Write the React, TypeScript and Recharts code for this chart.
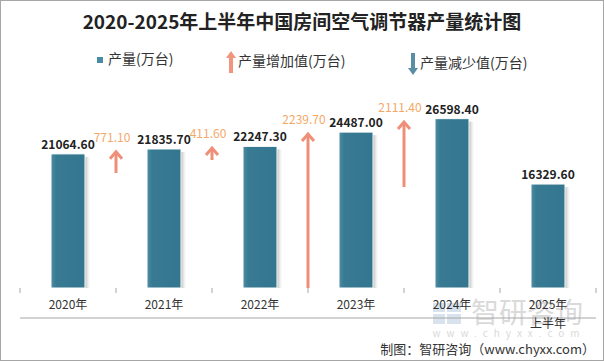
import { Bar, ComposedChart, LabelList, XAxis, YAxis } from 'recharts';

const years = ['2020年', '2021年', '2022年', '2023年', '2024年', '2025年上半年'];
const output = [21064.6, 21835.7, 22247.3, 24487.0, 26598.4, 16329.6];
const increase = [null, 771.1, 411.6, 2239.7, 2111.4, null];
// 箭头起止位置（以产量刻度表示）
const arrowLow = [null, 18060, 20100, 0, 15860, null];
const arrowHigh = [null, 21560, 22150, 24350, 26230, null];

const W = 604;
const H = 361;
const MARGIN = { top: 97, right: 8, bottom: 72, left: 20 };
const BAND = (W - MARGIN.left - MARGIN.right) / years.length;
const AXIS_Y = H - MARGIN.bottom - 1;
const FONT = '"Noto Sans CJK SC", "Noto Sans", sans-serif';

const data = years.map((year, i) => ({
  year,
  output: output[i],
  increase: increase[i],
  arrow: arrowLow[i] == null ? null : [arrowLow[i], arrowHigh[i]],
}));

function BarShape(props: any) {
  const { x, y, width, height } = props;
  if (height == null || height <= 0) return null;
  return (
    <g>
      <rect x={x + width} y={y + 3} width={6} height={height - 3} fill="url(#shadowGrad)" />
      <rect x={x} y={y} width={width} height={height} fill="url(#barGrad)" stroke="#ffffff" strokeWidth={1} />
    </g>
  );
}

function ArrowShape(props: any) {
  const { x, y, width, height, payload } = props;
  if (payload.arrow == null || height == null) return null;
  const cx = x + width / 2 - BAND / 2;
  const top = y;
  const bottom = y + height;
  return (
    <g>
      <line x1={cx} y1={bottom} x2={cx} y2={top + 2} stroke="#ef8f78" strokeWidth={3} />
      <polyline
        points={`${cx - 6},${top + 8} ${cx},${top + 1} ${cx + 6},${top + 8}`}
        fill="none"
        stroke="#ef8f78"
        strokeWidth={3}
      />
      <text x={cx - 4} y={top - 13} dy="0.35em" textAnchor="middle" fill="#f4a867" fontSize={12} fontFamily={FONT}>
        {payload.increase.toFixed(2)}
      </text>
    </g>
  );
}

function YearTick(props: any) {
  const { x, payload, index } = props;
  const value: string = payload.value;
  const lines = value.length > 5 ? [value.slice(0, 5), value.slice(5)] : [value];
  return (
    <g>
      <line x1={x - BAND / 2} y1={AXIS_Y} x2={x - BAND / 2} y2={AXIS_Y + 5} stroke="#a6a6a6" />
      {index === years.length - 1 && (
        <line x1={x + BAND / 2} y1={AXIS_Y} x2={x + BAND / 2} y2={AXIS_Y + 5} stroke="#a6a6a6" />
      )}
      {lines.map((t, i) => (
        <text key={i} x={x} y={AXIS_Y + 21 + i * 19} textAnchor="middle" fill="#333" fontSize={12} fontFamily={FONT}>
          {t}
        </text>
      ))}
    </g>
  );
}

export default function App() {
  return (
    <div style={{ position: 'absolute', left: 0, top: 0, width: W, height: H, background: '#fff', fontFamily: FONT }}>
      <div
        style={{
          position: 'absolute',
          top: 8,
          width: W,
          textAlign: 'center',
          fontSize: 19,
          fontWeight: 700,
          color: '#222',
          lineHeight: '26px',
        }}
      >
        2020-2025年上半年中国房间空气调节器产量统计图
      </div>

      <div style={{ position: 'absolute', top: 48, left: 97, fontSize: 14, color: '#333', lineHeight: '20px' }}>
        <span style={{ display: 'inline-block', width: 6, height: 6, background: '#4a8ca3', marginRight: 5, verticalAlign: 'middle' }} />
        产量(万台)
      </div>
      <div style={{ position: 'absolute', top: 50, left: 226, fontSize: 14, color: '#333', lineHeight: '20px' }}>
        <svg width={10} height={22} style={{ verticalAlign: 'middle', marginRight: 2 }}>
          <polygon points="5,0 10,7 7,7 7,22 3,22 3,7 0,7" fill="#f1957e" />
        </svg>
        产量增加值(万台)
      </div>
      <div style={{ position: 'absolute', top: 52, left: 408, fontSize: 14, color: '#333', lineHeight: '20px' }}>
        <svg width={10} height={22} style={{ verticalAlign: 'middle', marginRight: 2 }}>
          <polygon points="3,0 7,0 7,15 10,15 5,22 0,15 3,15" fill="#5a8ea4" />
        </svg>
        产量减少值(万台)
      </div>

      {/* 水印 */}
      <svg width={W} height={H} style={{ position: 'absolute', left: 0, top: 0 }}>
        <g opacity={0.55}>
          <rect x={433} y={303} width={12} height={9} fill="#b9cde0" />
          <rect x={447} y={303} width={14} height={9} fill="#b9cde0" />
          <rect x={433} y={314} width={12} height={10} fill="#b9cde0" />
          <rect x={447} y={314} width={14} height={10} fill="#b9cde0" />
        </g>
        <text x={527} y={313} dy="0.35em" textAnchor="middle" fontSize={28} fill="#dadada" fontFamily={FONT}>
          智研咨询
        </text>
        <text x={509} y={333} dy="0.35em" textAnchor="middle" fontSize={10} fill="#dadada" letterSpacing={6} fontFamily={FONT}>
          www.chyxx.com
        </text>
      </svg>

      <div style={{ position: 'absolute', left: 0, top: 0 }}>
        <ComposedChart width={W} height={H} data={data} margin={MARGIN}>
          <defs>
            <linearGradient id="barGrad" x1="0" y1="0" x2="1" y2="0">
              <stop offset="0%" stopColor="#4d8ea4" />
              <stop offset="15%" stopColor="#377a92" />
              <stop offset="100%" stopColor="#33768f" />
            </linearGradient>
            <linearGradient id="shadowGrad" x1="0" y1="0" x2="1" y2="0">
              <stop offset="0%" stopColor="#b4b4b4" />
              <stop offset="100%" stopColor="#ffffff" stopOpacity={0} />
            </linearGradient>
          </defs>
          <XAxis
            xAxisId="main"
            dataKey="year"
            height={1}
            axisLine={{ stroke: '#a6a6a6' }}
            tickLine={false}
            interval={0}
            tick={<YearTick />}
          />
          <XAxis xAxisId="arr" dataKey="year" hide />
          <YAxis domain={[0, 30000]} allowDataOverflow hide />
          <Bar xAxisId="main" dataKey="output" barSize={34} shape={<BarShape />} isAnimationActive={false}>
            <LabelList
              dataKey="output"
              position="top"
              offset={5}
              formatter={(v: any) => Number(v).toFixed(2)}
              fill="#222"
              fontSize={12}
              fontWeight={600}
              fontFamily={FONT}
            />
          </Bar>
          <Bar xAxisId="arr" dataKey="arrow" barSize={10} shape={<ArrowShape />} isAnimationActive={false} />
        </ComposedChart>
      </div>

      <svg width={W} height={H} style={{ position: 'absolute', left: 0, top: 0, pointerEvents: 'none' }}>
        <text x={595} y={349} dy="0.35em" textAnchor="end" fontSize={13} fill="#333" fontFamily={FONT}>
          制图：智研咨询（www.chyxx.com）
        </text>
      </svg>

      <div
        style={{
          position: 'absolute',
          left: 0,
          top: 0,
          width: W,
          height: H,
          boxSizing: 'border-box',
          border: '1px solid #a6a6a6',
          pointerEvents: 'none',
        }}
      />
    </div>
  );
}
